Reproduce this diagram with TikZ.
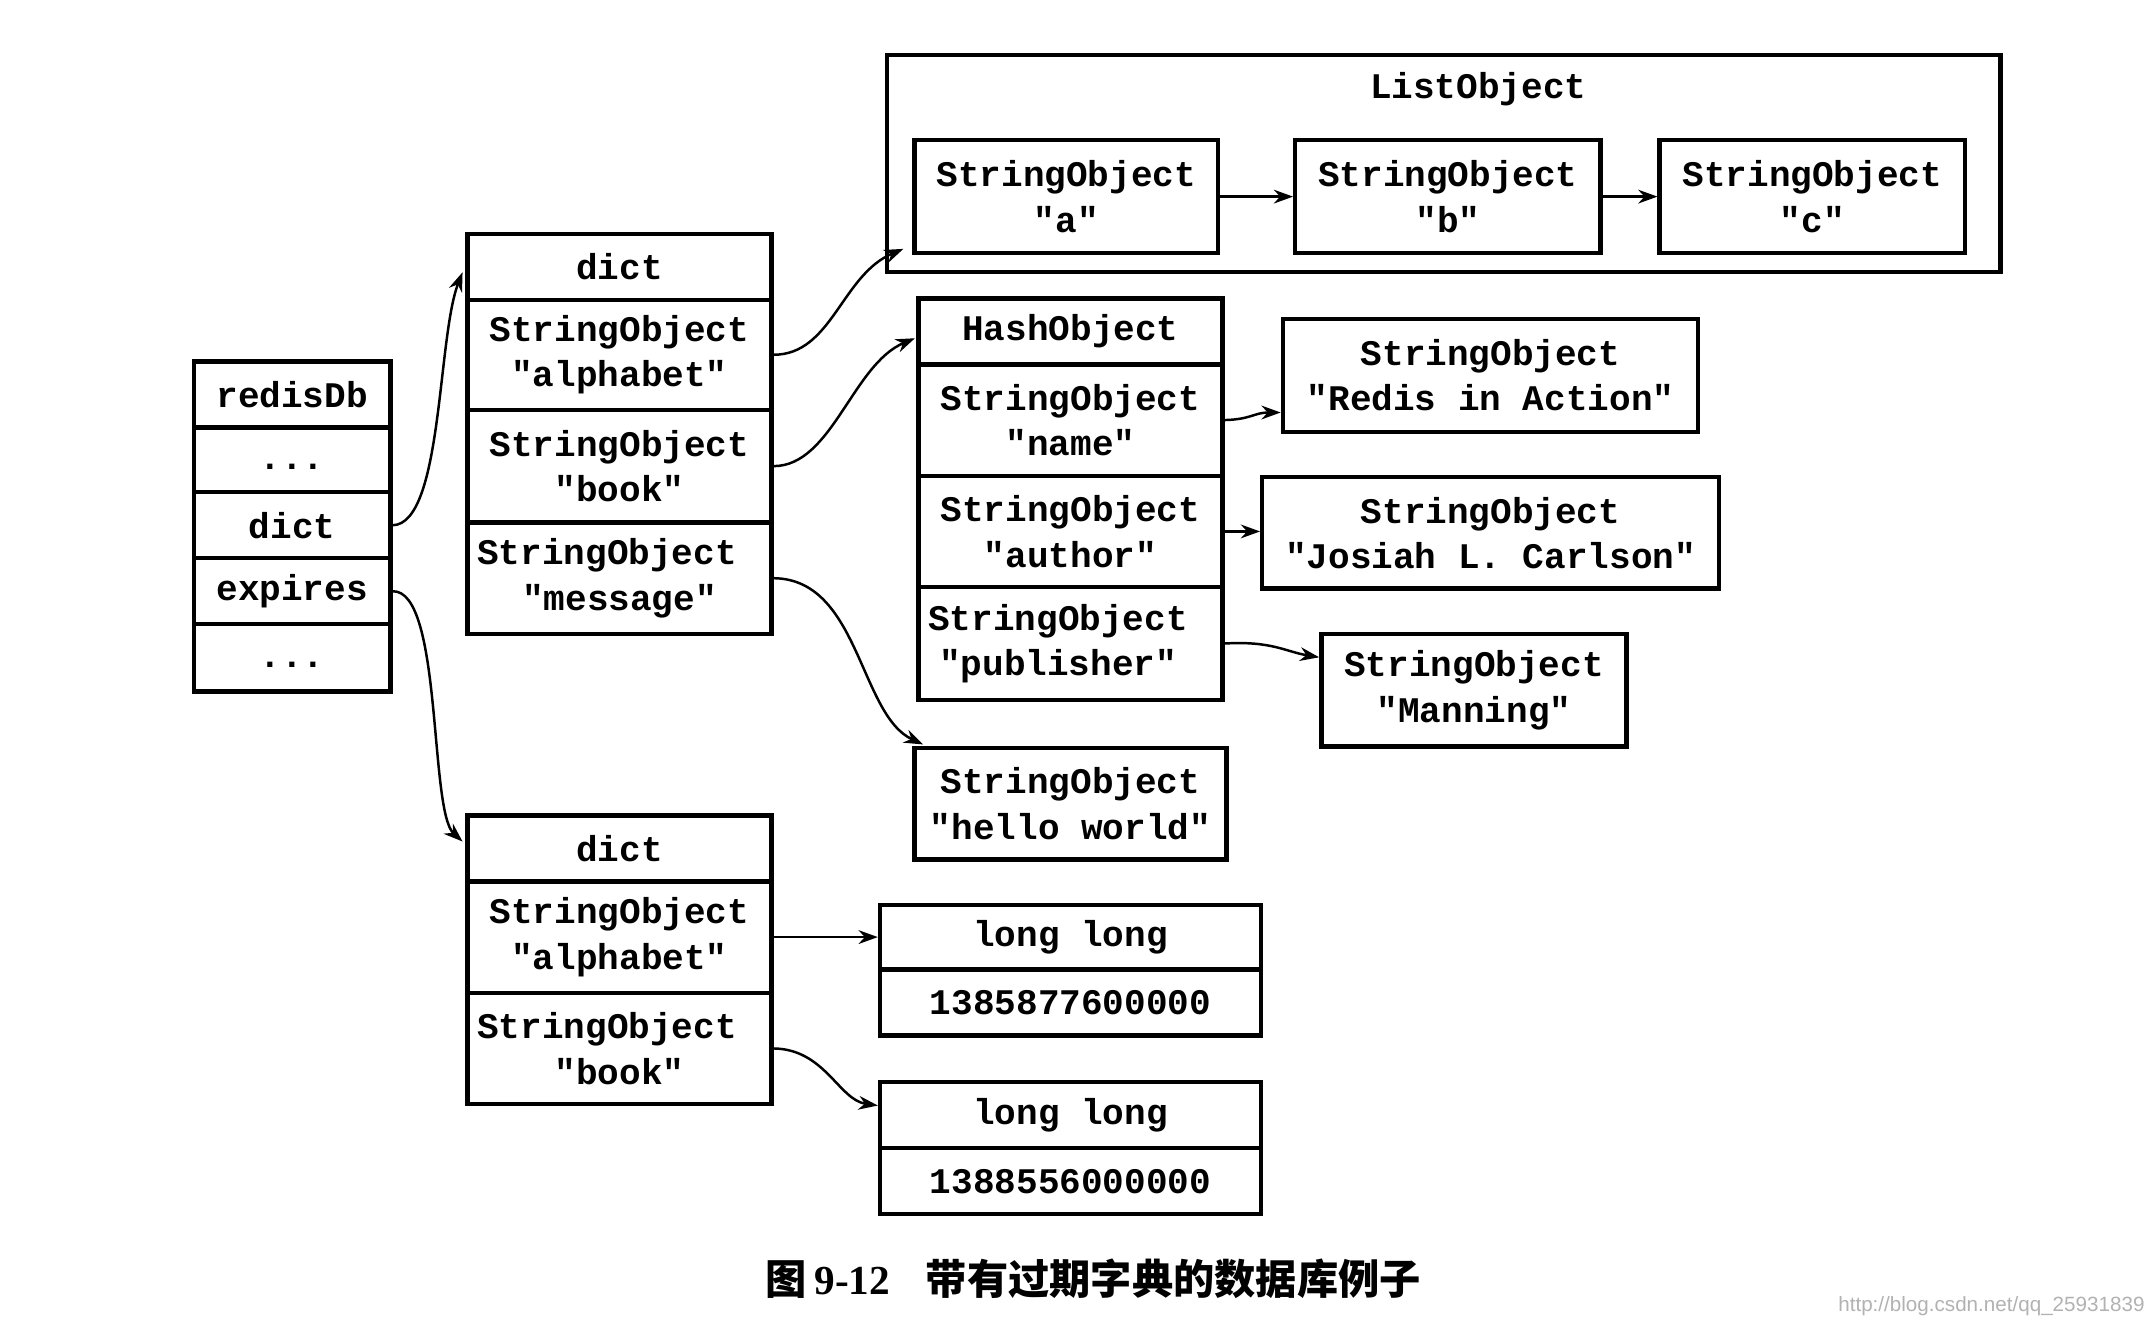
\documentclass[tikz,border=0pt]{standalone}
\usepackage{fontspec}
\usetikzlibrary{arrows.meta,calc}
\setmonofont{Liberation Mono}
\newfontfamily\cjk{Noto Sans CJK SC}
\newfontfamily\capserif{Liberation Serif}
\newfontfamily\wmfont{Liberation Sans}
\newcommand\mkcell[6]{\node[cell, minimum width={(#4-#2)*0.5pt}, minimum height={(#5-#3)*0.5pt}] (#1) at ({(#2+#4)/2},{(#3+#5)/2}) {#6};}
\tikzset{
  cell/.style={draw, line width=1.6pt, inner sep=0pt, align=center,
    font=\ttfamily\bfseries\fontsize{13.1}{16.5}\selectfont},
  plain/.style={inner sep=0pt, font=\ttfamily\bfseries\fontsize{13.1}{16.5}\selectfont},
  link/.style={line width=0.9pt, -{Stealth[length=7pt,width=5pt]}}
}
\begin{document}
\begin{tikzpicture}[x=0.5pt,y=-0.5pt]
\fill[white] (0,0) rectangle (1563.6,962.2);
\useasboundingbox (0,0) rectangle (1563.6,962.2);
% redisDb
\mkcell{r0}{141}{263}{284}{311}{redisDb}
\mkcell{r1}{141}{311}{284}{358}{\strut...}
\mkcell{r2}{141}{358}{284}{406}{dict}
\mkcell{r3}{141}{406}{284}{454}{expires}
\mkcell{r4}{141}{454}{284}{503}{\strut...}
% dict 1
\mkcell{da0}{340}{170}{561}{218}{dict}
\mkcell{da1}{340}{218}{561}{298}{StringObject\\"alphabet"}
\mkcell{da2}{340}{298}{561}{380}{StringObject\\"book"}
\mkcell{da3}{340}{380}{561}{461}{StringObject\hspace*{9pt}\\"message"}
% ListObject
\mkcell{lo}{645}{40}{1455}{198}{}
\node[plain] (lolabel) at (1075,65) {ListObject};
\mkcell{sa}{665}{102}{886}{184}{StringObject\\"a"}
\mkcell{sb}{942}{102}{1164}{184}{StringObject\\"b"}
\mkcell{sc}{1207}{102}{1429}{184}{StringObject\\"c"}
% HashObject
\mkcell{h0}{668}{217}{889}{265}{HashObject}
\mkcell{h1}{668}{265}{889}{346}{StringObject\\"name"}
\mkcell{h2}{668}{346}{889}{427}{StringObject\\"author"}
\mkcell{h3}{668}{427}{889}{509}{StringObject\hspace*{9pt}\\"publisher"\hspace*{9pt}}
\mkcell{ri}{933}{232}{1235}{314}{StringObject\\"Redis in Action"}
\mkcell{jc}{918}{347}{1250}{428}{StringObject\\"Josiah L. Carlson"}
\mkcell{mn}{961}{461}{1183}{543}{StringObject\\"Manning"}
\mkcell{hw}{665}{544}{892}{625}{StringObject\\"hello world"}
% expires dict
\mkcell{db0}{340}{593}{561}{641}{dict}
\mkcell{db1}{340}{641}{561}{722}{StringObject\\"alphabet"}
\mkcell{db2}{340}{722}{561}{803}{StringObject\hspace*{9pt}\\"book"}
\mkcell{la0}{640}{658}{917}{705}{long long}
\mkcell{la1}{640}{705}{917}{753}{1385877600000}
\mkcell{lb0}{640}{787}{917}{835}{long long}
\mkcell{lb1}{640}{835}{917}{883}{1388556000000}
% connectors
\coordinate (lotip) at (657,181);
\draw[link] (r2.east) .. controls (322,381) and (318,245) .. ($(da0.west)+(-2,4)$);
\draw[link] (r3.east) .. controls (322,429) and (312,590) .. ($(db0.west)+(-2,-5)$);
\draw[link] (da1.east) .. controls (605,258) and (612,200) .. (lotip);
\draw[link] (da2.east) .. controls (605,339) and (620,265) .. ($(h0.west)+(-1,5)$);
\draw[link] (da3.east) .. controls (625,421) and (625,520) .. ($(hw.north west)+(8,-1)$);
\draw[link] (h1.east) .. controls (910,305) and (912,300) .. ($(ri.west)+(0,27)$);
\draw[link] (h2.east) -- (h2.east -| jc.west);
\draw[link] (h3.east) .. controls (925,466) and (935,474) .. ($(mn.west)+(0,-24)$);
\draw[link] (db1.east) -- (db1.east -| la0.west);
\draw[link] (db2.east) .. controls (600,763) and (610,800) .. ($(lb0.west)+(0,-7)$);
\draw[link] (sa.east) -- (sb.west);
\draw[link] (sb.east) -- (sc.west);
% caption
\node[anchor=west, inner sep=0pt, font=\fontsize{15}{18}\selectfont] (cap) at (556,930)
  {{\cjk\bfseries 图}\hspace{3pt}{\capserif\bfseries 9-12}\hspace{13pt}{\cjk\bfseries 带有过期字典的数据库例子}};
\node[anchor=east, inner sep=0pt, text=black!30, font=\wmfont\fontsize{7.5}{9}\selectfont] (wm) at (1560,950) {http://blog.csdn.net/qq\_25931839};
\end{tikzpicture}
\end{document}
